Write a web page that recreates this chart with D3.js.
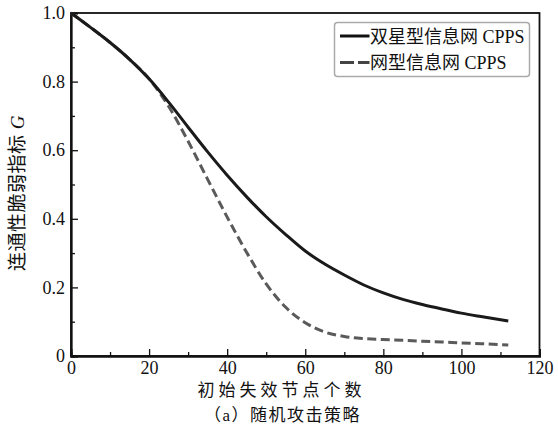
<!DOCTYPE html>
<html lang="zh">
<head>
<meta charset="UTF-8">
<title>随机攻击策略</title>
<script src="https://d3js.org/d3.v7.min.js"></script>
<style>
    body { margin: 0; background: #fff; }
    svg { display: block; }
    text { font-family: "Liberation Serif", "Noto Sans CJK SC", serif; fill: #111; }
</style>
</head>
<body>
<script>
// 初始失效节点个数
var xs = [0, 5, 10, 15, 20, 25, 30, 35, 40, 45, 50, 55, 60, 65, 70, 75, 80, 85, 90, 95, 100, 105, 112];
// 双星型信息网 CPPS
var starG = [1.0, 0.958, 0.914, 0.865, 0.808, 0.74, 0.667, 0.595, 0.527, 0.464, 0.406, 0.354, 0.306, 0.268, 0.236, 0.207, 0.184, 0.165, 0.15, 0.137, 0.125, 0.115, 0.102];
// 网型信息网 CPPS
var meshG = [1.0, 0.958, 0.914, 0.865, 0.808, 0.728, 0.626, 0.515, 0.405, 0.302, 0.21, 0.142, 0.097, 0.07, 0.057, 0.051, 0.048, 0.046, 0.043, 0.041, 0.038, 0.036, 0.032];
var xTicks = [0, 20, 40, 60, 80, 100, 120];
var yTicks = [0, 0.2, 0.4, 0.6, 0.8, 1.0];
var xMinor = [10, 30, 50, 70, 90, 110];
var yMinor = [0.1, 0.3, 0.5, 0.7, 0.9];
var seriesNames = ["双星型信息网 CPPS", "网型信息网 CPPS"];

var width = 558, height = 433;
var margin = { top: 13, right: 18.5, bottom: 77, left: 71 };
var innerWidth = width - margin.left - margin.right,
    innerHeight = height - margin.top - margin.bottom;

var svg = d3.select("body").append("svg")
    .attr("width", width)
    .attr("height", height);

var g = svg.append("g")
    .attr("transform", "translate(" + margin.left + "," + margin.top + ")");

var x = d3.scaleLinear().domain([0, 120]).range([0, innerWidth]);
var y = d3.scaleLinear().domain([0, 1]).range([innerHeight, 0]);

// 边框
g.append("rect")
    .attr("width", innerWidth).attr("height", innerHeight)
    .attr("fill", "none").attr("stroke", "#111").attr("stroke-width", 1.8);

// 坐标轴（刻度朝内）
var fmtY = function (d) { return d === 0 ? "0" : d3.format(".1f")(d); };
g.append("g").attr("class", "axis").attr("transform", "translate(0," + innerHeight + ")")
    .call(d3.axisBottom(x).tickValues(xTicks).tickSize(-7).tickPadding(5));
g.append("g").attr("class", "axis")
    .call(d3.axisLeft(y).tickValues(yTicks).tickSize(-7).tickPadding(6).tickFormat(fmtY));
g.append("g").attr("class", "axis").attr("transform", "translate(0," + innerHeight + ")")
    .call(d3.axisBottom(x).tickValues(xMinor).tickSize(-4).tickFormat(""));
g.append("g").attr("class", "axis")
    .call(d3.axisLeft(y).tickValues(yMinor).tickSize(-4).tickFormat(""));
g.selectAll(".axis")
    .attr("font-family", "Liberation Serif, serif")
    .attr("font-size", 18);
g.selectAll(".axis text").style("font-family", "'Liberation Serif', serif").style("font-size", "18px");
g.selectAll(".domain").attr("stroke", "#111").attr("stroke-width", 1.8);
g.selectAll(".tick line").attr("stroke", "#111").attr("stroke-width", 1.3);

// 曲线
var line = d3.line()
    .x(function (d) { return x(d[0]); })
    .y(function (d) { return y(d[1]); })
    .curve(d3.curveMonotoneX);

g.append("path")
    .datum(xs.map(function (v, i) { return [v, meshG[i]]; }))
    .attr("d", line)
    .attr("fill", "none").attr("stroke", "#5a5a5a").attr("stroke-width", 3)
    .attr("stroke-dasharray", "9,4.5");

g.append("path")
    .datum(xs.map(function (v, i) { return [v, starG[i]]; }))
    .attr("d", line)
    .attr("fill", "none").attr("stroke", "#1a1a1a").attr("stroke-width", 3);

// 图例
var legend = svg.append("g").attr("transform", "translate(334.5,22.5)");
legend.append("rect")
    .attr("width", 195).attr("height", 54).attr("rx", 3)
    .attr("fill", "#fff").attr("stroke", "#aaa").attr("stroke-width", 1.5);
legend.append("line").attr("x1", 5.5).attr("x2", 35).attr("y1", 13.5).attr("y2", 13.5)
    .attr("stroke", "#111").attr("stroke-width", 3);
legend.append("line").attr("x1", 5.5).attr("x2", 35).attr("y1", 40).attr("y2", 40)
    .attr("stroke", "#444").attr("stroke-width", 3).attr("stroke-dasharray", "14,4");
legend.selectAll("text.lg").data(seriesNames).enter().append("text")
    .attr("class", "lg")
    .attr("x", 35.5)
    .attr("y", function (d, i) { return i === 0 ? 20 : 46.5; })
    .style("font-size", "18px")
    .text(function (d) { return d; });

// 轴标题
var yl = svg.append("text")
    .attr("transform", "translate(24,193) rotate(-90)")
    .attr("text-anchor", "middle")
    .style("font-size", "19px")
    .style("letter-spacing", "0.5px");
yl.append("tspan").text("连通性脆弱指标 ");
yl.append("tspan").style("font-style", "italic").text("G");

svg.append("text")
    .attr("x", 197.5).attr("y", 396)
    .style("font-size", "17px")
    .style("letter-spacing", "4px")
    .text("初始失效节点个数");

svg.append("text")
    .attr("x", 204).attr("y", 421)
    .style("font-size", "17px")
    .style("letter-spacing", "1.5px")
    .text("（a）随机攻击策略");
</script>
</body>
</html>
